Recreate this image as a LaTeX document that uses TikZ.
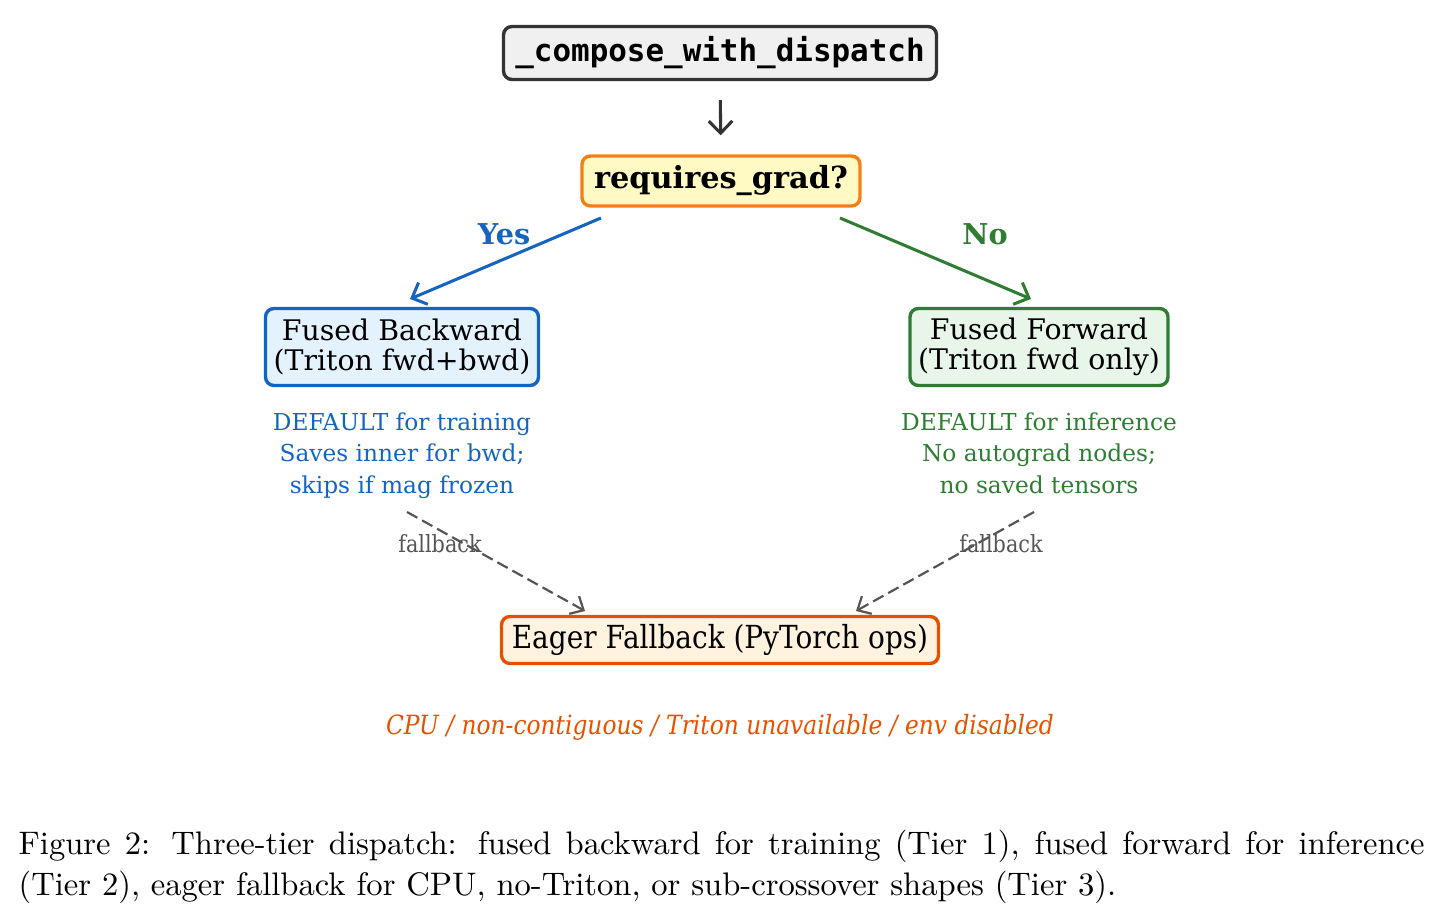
\documentclass[tikz,border=0pt]{standalone}
\usepackage{fontspec}
\usepackage{tikz}
\usetikzlibrary{arrows.meta,positioning,calc}
\newfontfamily\dvserif{DejaVu Serif}
\newfontfamily\dvcond[FakeStretch=0.88]{DejaVu Serif}
\newfontfamily\dvmono{DejaVu Sans Mono}
\definecolor{grayFill}{HTML}{F0F0F0}
\definecolor{grayEdge}{HTML}{333333}
\definecolor{yellowFill}{HTML}{FFF9C4}
\definecolor{yellowEdge}{HTML}{F57F17}
\definecolor{blueFill}{HTML}{E3F2FD}
\definecolor{blueEdge}{HTML}{1565C0}
\definecolor{greenFill}{HTML}{E8F5E9}
\definecolor{greenEdge}{HTML}{2E7D32}
\definecolor{orangeFill}{HTML}{FFF3E0}
\definecolor{orangeEdge}{HTML}{E65100}
\definecolor{fbGray}{HTML}{555555}
\tikzset{
  tierbox/.style 2 args={draw=#2,fill=#1,line width=1pt,rounded corners=2.5pt,align=center,inner sep=0pt},
  notetext/.style={font=\dvserif\fontsize{6.9}{9.3}\selectfont,align=center,text=#1,anchor=north,inner sep=0pt},
  flowarrow/.style={draw=#1,line width=0.9pt,-{Straight Barb[length=3.6pt,width=7pt]}},
  fallarrow/.style={draw=fbGray,line width=0.65pt,dash pattern=on 3.5pt off 1.6pt,-{Straight Barb[length=3.2pt,width=6pt]}},
}
\newcommand{\boxfont}{\dvserif\fontsize{8.4}{8.9}\selectfont}

\begin{document}
\begin{tikzpicture}[x=0.0104cm,y=-0.0104cm]
\useasboundingbox (0,0) rectangle (1439,917);
\node[tierbox={grayFill}{grayEdge},minimum width=433*0.0104cm,minimum height=53*0.0104cm,font=\dvmono\bfseries\fontsize{9.15}{11}\selectfont] (top) at (720,53) {\_compose\_with\_dispatch};
\node[tierbox={yellowFill}{yellowEdge},minimum width=278*0.0104cm,minimum height=50*0.0104cm,font=\dvserif\bfseries\fontsize{9}{11}\selectfont] (grad) at (721,181) {requires\_grad?};
\node[tierbox={blueFill}{blueEdge},minimum width=273*0.0104cm,minimum height=77*0.0104cm,font=\boxfont] (bwd) at (402,347) {Fused Backward\\(Triton fwd+bwd)};
\node[tierbox={greenFill}{greenEdge},minimum width=258*0.0104cm,minimum height=77*0.0104cm,font=\boxfont] (fwd) at (1039,347) {Fused Forward\\(Triton fwd only)};
\node[tierbox={orangeFill}{orangeEdge},minimum width=437*0.0104cm,minimum height=47*0.0104cm,font=\dvcond\fontsize{9.4}{11}\selectfont] (eager) at (720,640) {Eager Fallback (PyTorch ops)};

\node[notetext=blueEdge] (bwdnote) at (402,412) {DEFAULT for training\\Saves inner for bwd;\\skips if mag frozen};
\node[notetext=greenEdge] (fwdnote) at (1039,412) {DEFAULT for inference\\No autograd nodes;\\no saved tensors};
\node[text=orangeEdge,font=\dvcond\itshape\fontsize{7.85}{9}\selectfont] (envnote) at (720,727) {CPU / non-contiguous / Triton unavailable / env disabled};

\coordinate (yesA) at (601,218);
\coordinate (yesB) at (410,299);
\coordinate (noA) at (840,218);
\coordinate (noB) at (1031,299);
\coordinate (fbL) at (407,512);
\coordinate (fbLend) at (585,611);
\coordinate (fbR) at (1034,512);
\coordinate (fbRend) at (856,611);

\draw[flowarrow=grayEdge,shorten <=19*0.0104cm,shorten >=19*0.0104cm] (top) -- (grad);
\draw[flowarrow=blueEdge] (yesA) -- (yesB);
\draw[flowarrow=greenEdge] (noA) -- (noB);
\node[text=blueEdge,font=\dvserif\bfseries\fontsize{8.5}{11}\selectfont] (yes) at (504,234) {Yes};
\node[text=greenEdge,font=\dvserif\bfseries\fontsize{8.5}{11}\selectfont] (no) at (985,234) {No};

\draw[fallarrow] (fbL) -- (fbLend);
\draw[fallarrow] (fbR) -- (fbRend);
\node[text=fbGray,font=\dvcond\fontsize{7}{9}\selectfont] (fbLlabel) at (440,544) {fallback};
\node[text=fbGray,font=\dvcond\fontsize{7}{9}\selectfont] (fbRlabel) at (1001,544) {fallback};

\node[anchor=north west,inner sep=0pt,text width=1406*0.0104cm,align=justify,font=\fontsize{9.65}{12.3}\selectfont] (caption) at (18,829) {Figure 2: Three-tier dispatch: fused backward for training (Tier 1), fused forward for inference (Tier 2), eager fallback for CPU, no-Triton, or sub-crossover shapes (Tier 3).};
\end{tikzpicture}
\end{document}
